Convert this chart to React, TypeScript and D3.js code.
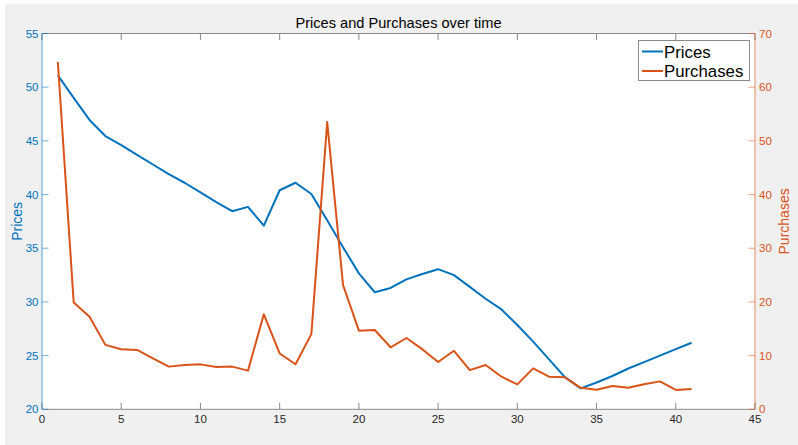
import React from "react";
import * as d3 from "d3";

const timeSteps = d3.range(1, 42);
const prices = [
  51.1, 49.0, 46.95, 45.45, 44.6, 43.7, 42.8, 41.9, 41.1, 40.2,
  39.3, 38.45, 38.85, 37.1, 40.4, 41.1, 40.05, 37.6, 35.1, 32.66,
  30.9, 31.3, 32.1, 32.6, 33.05, 32.5, 31.4, 30.3, 29.3, 27.85,
  26.3, 24.65, 23.0, 21.95, 22.5, 23.1, 23.8, 24.4, 25.0, 25.6, 26.2,
];
const purchases = [
  64.7, 19.9, 17.25, 12.0, 11.2, 11.05, 9.5, 7.95, 8.25, 8.37,
  7.88, 7.95, 7.2, 17.7, 10.4, 8.4, 14.0, 53.5, 23.15, 14.65,
  14.77, 11.55, 13.28, 11.2, 8.8, 10.9, 7.3, 8.25, 6.07, 4.65,
  7.63, 6.07, 5.96, 4.0, 3.65, 4.35, 4.0, 4.65, 5.2, 3.6, 3.8,
];
const xTicks = [0, 5, 10, 15, 20, 25, 30, 35, 40, 45];
const leftTicks = [20, 25, 30, 35, 40, 45, 50, 55];
const rightTicks = [0, 10, 20, 30, 40, 50, 60, 70];
const seriesNames = ["Prices", "Purchases"];

const BLUE = "#0072BD";
const ORANGE = "#D95319";
const FONT = "'Liberation Sans', Arial, Helvetica, sans-serif";

export default function App() {
  const W = 798, H = 445;
  const L = 42, R = 755, T = 33.5, B = 409.3;
  const x = d3.scaleLinear().domain([0, 45]).range([L, R]);
  const yL = d3.scaleLinear().domain([20, 55]).range([B, T]);
  const yR = d3.scaleLinear().domain([0, 70]).range([B, T]);
  const lineP = d3.line<number>().x((_, i) => x(timeSteps[i])).y((d) => yL(d));
  const lineQ = d3.line<number>().x((_, i) => x(timeSteps[i])).y((d) => yR(d));
  const tk = 6.5;

  return (
    <svg width={W} height={H} style={{ position: "absolute", left: 0, top: 0 }} fontFamily={FONT}>
      <rect x={0} y={0} width={W} height={H} fill="#ffffff" />
      <rect x={5} y={4} width={W - 5} height={H - 4} fill="#f0f0f0" />
      <rect x={L} y={T} width={R - L} height={B - T} fill="#ffffff" />

      {/* title */}
      <text x={(L + R) / 2} y={27.5} textAnchor="middle" fontSize={14.6} fill="#000">
        Prices and Purchases over time
      </text>

      {/* top & bottom axes */}
      <line x1={L} x2={R} y1={T} y2={T} stroke="#8a8a8a" strokeWidth={1} />
      <line x1={L} x2={R} y1={B} y2={B} stroke="#8a8a8a" strokeWidth={1} />
      {xTicks.map((t) => (
        <g key={"x" + t}>
          <line x1={x(t)} x2={x(t)} y1={B} y2={B - tk} stroke="#8a8a8a" />
          <line x1={x(t)} x2={x(t)} y1={T} y2={T + tk} stroke="#8a8a8a" />
          <text x={x(t)} y={423} textAnchor="middle" fontSize={11.5} fill="#262626">
            {t}
          </text>
        </g>
      ))}

      {/* left axis */}
      <line x1={L} x2={L} y1={T} y2={B} stroke={BLUE} strokeOpacity={0.55} strokeWidth={1.2} />
      {leftTicks.map((t) => (
        <g key={"l" + t}>
          <line x1={L} x2={L + tk} y1={yL(t)} y2={yL(t)} stroke={BLUE} strokeOpacity={0.55} />
          <text x={38.5} y={yL(t) + 4} textAnchor="end" fontSize={11.5} fill={BLUE}>
            {t}
          </text>
        </g>
      ))}
      <text
        transform={`translate(22,${(T + B) / 2}) rotate(-90)`}
        textAnchor="middle"
        fontSize={14}
        fill={BLUE}
      >
        Prices
      </text>

      {/* right axis */}
      <line x1={R} x2={R} y1={T} y2={B} stroke={ORANGE} strokeOpacity={0.55} strokeWidth={1.2} />
      {rightTicks.map((t) => (
        <g key={"r" + t}>
          <line x1={R} x2={R - tk} y1={yR(t)} y2={yR(t)} stroke={ORANGE} strokeOpacity={0.55} />
          <text x={759} y={yR(t) + 4} textAnchor="start" fontSize={11.5} fill={ORANGE}>
            {t}
          </text>
        </g>
      ))}
      <text
        transform={`translate(789,${(T + B) / 2}) rotate(-90)`}
        textAnchor="middle"
        fontSize={14}
        fill={ORANGE}
      >
        Purchases
      </text>

      {/* series */}
      <path d={lineP(prices) || ""} fill="none" stroke={BLUE} strokeWidth={2} strokeLinejoin="round" />
      <path d={lineQ(purchases) || ""} fill="none" stroke={ORANGE} strokeWidth={2} strokeLinejoin="round" />

      {/* legend */}
      <rect x={638.5} y={40.5} width={111} height={40} fill="#ffffff" stroke="#8a8a8a" strokeWidth={1} />
      {seriesNames.map((n, i) => (
        <g key={n}>
          <line x1={642} x2={663} y1={51.5 + i * 19.5} y2={51.5 + i * 19.5} stroke={i === 0 ? BLUE : ORANGE} strokeWidth={2} />
          <text x={664} y={57.5 + i * 19.5} fontSize={16.8} fill="#000">
            {n}
          </text>
        </g>
      ))}
    </svg>
  );
}
